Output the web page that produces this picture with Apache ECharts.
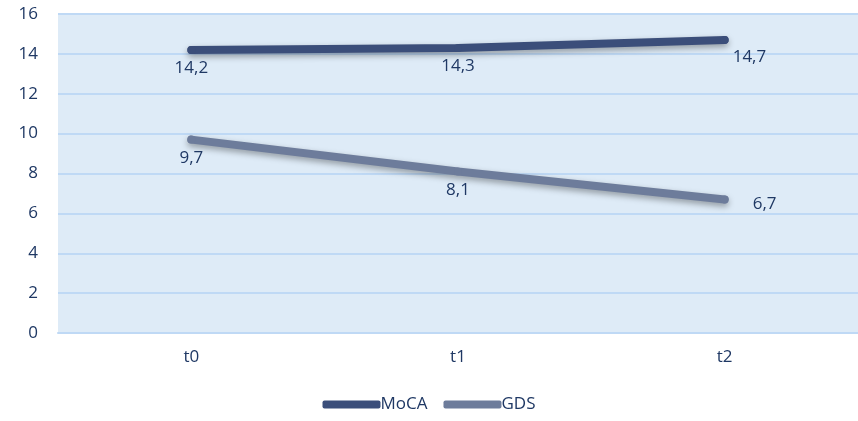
<!DOCTYPE html>
<html>
<head>
<meta charset="utf-8">
<script src="https://cdn.jsdelivr.net/npm/echarts@6/dist/echarts.min.js"></script>
<style>
html, body { margin: 0; padding: 0; background: #fff; }
#chart { width: 858px; height: 421px; }
</style>
</head>
<body>
<div id="chart"></div>
<script>
// data
var categories = ['t0', 't1', 't2'];
var mocaValues = [14.2, 14.3, 14.7];
var gdsValues = [9.7, 8.1, 6.7];
var yTicks = { min: 0, max: 16, interval: 2 };

var textColor = '#1f3864';
var fontSize = 17;
var fmt = function (p) { return String(p.value).replace('.', ','); };

var chart = echarts.init(document.getElementById('chart'));
chart.setOption({
    animation: false,
    textStyle: { fontFamily: 'Open Sans, Liberation Sans, sans-serif', fontSize: fontSize },
    grid: {
        left: 58,
        right: 0,
        top: 14,
        bottom: 88,
        show: true,
        backgroundColor: '#deebf7',
        borderWidth: 0
    },
    legend: {
        bottom: 3,
        left: 'center',
        itemWidth: 58,
        itemHeight: 8,
        itemGap: 16,
        textStyle: { color: textColor, fontSize: fontSize, padding: [0, 0, 0, -5] },
        data: [
            { name: 'MoCA', icon: 'roundRect', itemStyle: { color: '#3b4e7a', opacity: 1 } },
            { name: 'GDS', icon: 'roundRect', itemStyle: { color: '#6d7c9b', opacity: 1 } }
        ]
    },
    xAxis: {
        type: 'category',
        data: categories,
        boundaryGap: true,
        axisLine: { lineStyle: { color: '#bfd9f5', width: 2 } },
        axisTick: { show: false },
        axisLabel: { color: textColor, fontSize: fontSize, margin: 16 }
    },
    yAxis: {
        type: 'value',
        min: yTicks.min,
        max: yTicks.max,
        interval: yTicks.interval,
        axisLine: { show: false },
        axisTick: { show: false },
        axisLabel: { color: textColor, fontSize: fontSize, margin: 20 },
        splitLine: { lineStyle: { color: '#bfd9f5', width: 2 } }
    },
    series: [{
        name: 'MoCA',
        type: 'line',
        data: mocaValues,
        symbol: 'circle',
        symbolSize: 8,
        showSymbol: true,
        color: '#3b4e7a',
        itemStyle: { color: '#3b4e7a', borderWidth: 0 },
        lineStyle: {
            width: 8, cap: 'round', color: '#3b4e7a',
            shadowColor: 'rgba(0,0,0,0.35)', shadowBlur: 6, shadowOffsetY: 3
        },
        label: {
            show: true,
            position: 'bottom',
            distance: 6,
            color: textColor,
            fontSize: fontSize,
            formatter: fmt
        },
        labelLayout: function (params) {
            if (params.dataIndex === 2) {
                return { x: params.rect.x + 12, y: params.rect.y + 13 };
            }
        }
    }, {
        name: 'GDS',
        type: 'line',
        data: gdsValues,
        symbol: 'circle',
        symbolSize: 8,
        showSymbol: true,
        color: '#6d7c9b',
        itemStyle: { color: '#6d7c9b', borderWidth: 0 },
        lineStyle: {
            width: 8, cap: 'round', color: '#6d7c9b',
            shadowColor: 'rgba(0,0,0,0.35)', shadowBlur: 6, shadowOffsetY: 3
        },
        label: {
            show: true,
            position: 'bottom',
            distance: 6,
            color: textColor,
            fontSize: fontSize,
            formatter: fmt
        },
        labelLayout: function (params) {
            if (params.dataIndex === 2) {
                return { x: params.rect.x + 32, y: params.rect.y };
            }
        }
    }]
});
</script>
</body>
</html>
